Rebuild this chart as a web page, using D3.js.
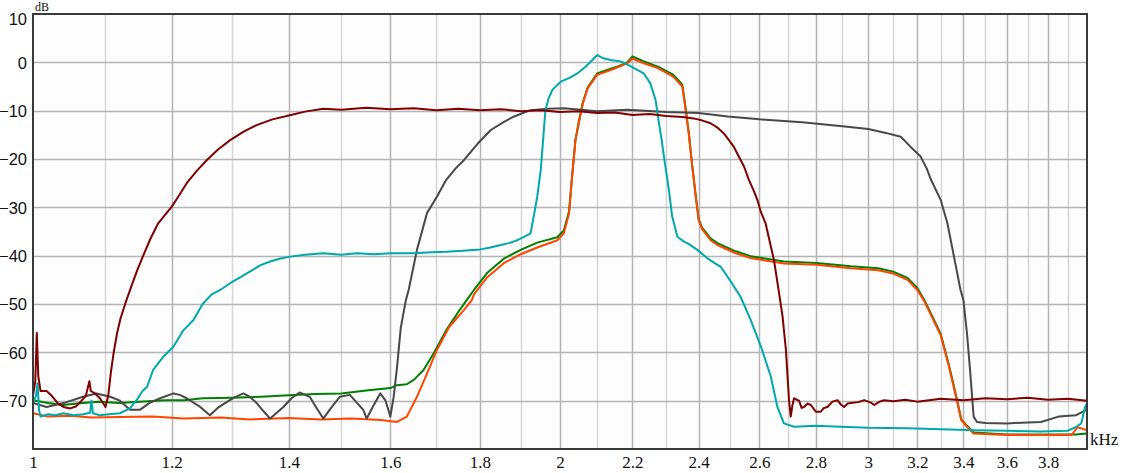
<!DOCTYPE html>
<html><head><meta charset="utf-8">
<script src="https://cdn.jsdelivr.net/npm/d3@7"></script>
<style>body{margin:0;background:#fff}svg{display:block}</style>
</head><body>
<svg id="chart" width="1123" height="473"></svg>
<script>
// ---------- data ----------
const xTickValues = [1,1.2,1.4,1.6,1.8,2,2.2,2.4,2.6,2.8,3,3.2,3.4,3.6,3.8];
const xTickLabels = ["1","1.2","1.4","1.6","1.8","2","2.2","2.4","2.6","2.8","3","3.2","3.4","3.6","3.8"];
const xMinorValues = [1.1,1.3,1.5,1.7,1.9,2.1,2.3,2.5,2.7,2.9,3.1,3.3,3.5,3.7,3.9];
const yTickValues = [10,0,-10,-20,-30,-40,-50,-60,-70];
const yGridValues = [0,-10,-20,-30,-40,-50,-60,-70];
const xUnit = "kHz";
const yUnit = "dB";

const darkRedF = [1.000,1.003,1.005,1.007,1.010,1.018,1.025,1.033,1.041,1.050,1.058,1.066,1.072,1.077,1.079,1.085,1.092,1.100,1.104,1.108,1.112,1.117,1.122,1.130,1.139,1.147,1.156,1.167,1.179,1.190,1.200,1.212,1.224,1.240,1.257,1.276,1.296,1.320,1.342,1.370,1.400,1.430,1.465,1.50,1.55,1.60,1.65,1.70,1.75,1.80,1.85,1.90,1.95,2.00,2.05,2.10,2.15,2.20,2.25,2.30,2.35,2.384,2.41,2.438,2.46,2.481,2.514,2.548,2.564,2.580,2.593,2.605,2.621,2.635,2.650,2.668,2.680,2.692,2.703,2.709,2.715,2.721,2.730,2.739,2.748,2.757,2.770,2.782,2.800,2.818,2.830,2.843,2.862,2.881,2.894,2.906,2.920,2.932,2.960,2.984,3.010,3.024,3.045,3.063,3.10,3.15,3.20,3.30,3.40,3.50,3.60,3.70,3.80,3.90,4.00];
const darkRedDb = [-69,-66,-56,-65,-68,-68,-69,-70.5,-71.3,-71.6,-71.2,-70,-69,-66,-68,-68.5,-69.5,-71.3,-69,-64,-60,-56,-53,-49.5,-46,-43,-40,-36.5,-33.3,-31.5,-29.9,-27.5,-25,-22.5,-20.2,-18,-16.1,-14.3,-13,-11.8,-11,-10.2,-9.6,-9.8,-9.4,-9.7,-9.5,-9.9,-9.6,-9.9,-9.7,-10.1,-9.9,-10.3,-10.1,-10.5,-10.4,-10.9,-10.7,-11.1,-11.3,-11.6,-12,-12.6,-13.5,-14.7,-17.5,-21.6,-24.3,-26.5,-28.5,-31,-33.3,-37,-40.9,-47.8,-52.5,-59.5,-69.9,-73.3,-71,-69.5,-69.8,-70,-71.5,-71.3,-70.6,-70.9,-72.3,-72.3,-71.5,-71.3,-70.2,-69.9,-70.8,-71.3,-70.6,-70.5,-70.3,-69.9,-70.4,-70.9,-70.2,-69.9,-70.1,-69.8,-70.2,-69.6,-69.9,-69.5,-69.7,-69.4,-69.8,-69.6,-70];

const tealF = [1.000,1.004,1.006,1.008,1.010,1.020,1.030,1.041,1.055,1.068,1.078,1.080,1.082,1.092,1.105,1.121,1.130,1.136,1.146,1.155,1.162,1.171,1.187,1.203,1.219,1.235,1.250,1.265,1.279,1.296,1.313,1.330,1.348,1.366,1.385,1.403,1.43,1.465,1.50,1.532,1.566,1.600,1.650,1.690,1.722,1.760,1.801,1.825,1.850,1.870,1.891,1.910,1.924,1.932,1.941,1.950,1.956,1.962,1.970,1.980,2.002,2.025,2.046,2.070,2.091,2.100,2.115,2.138,2.166,2.194,2.215,2.233,2.252,2.268,2.278,2.286,2.293,2.308,2.318,2.334,2.354,2.37,2.396,2.427,2.450,2.471,2.500,2.536,2.570,2.605,2.639,2.662,2.685,2.721,2.80,2.893,3.0,3.159,3.30,3.448,3.60,3.765,3.90,3.94,3.97,3.99,4.0];
const tealDb = [-70.5,-69,-66.4,-72,-73.3,-72.8,-73,-72.6,-73,-72.8,-72.5,-70,-72.6,-73,-72.8,-72.6,-72,-71.6,-69.9,-68,-67.1,-63.7,-60.9,-58.8,-55.4,-53.3,-50,-48,-47.1,-45.7,-44.5,-43.3,-42,-41.2,-40.6,-40.2,-39.8,-39.5,-39.8,-39.5,-39.7,-39.5,-39.5,-39.3,-39.2,-39,-38.7,-38.3,-37.8,-37.4,-36.8,-36,-35.4,-31.9,-27.8,-22.3,-16.1,-9.9,-7.5,-5.7,-4,-3.2,-2.3,-0.8,0.8,1.5,0.9,0.5,0.2,-0.8,-1.6,-2.3,-4.3,-7.8,-12.6,-16,-19.5,-26.4,-31.9,-36.1,-37.1,-37.6,-38.8,-40.5,-41.5,-42.3,-45,-48.5,-53.3,-58.8,-65,-71.3,-74.7,-75.4,-75.2,-75.4,-75.6,-75.7,-75.9,-76.1,-76.2,-76.4,-76.2,-75.5,-74.7,-71.3,-70.5];

const grayF = [1.000,1.018,1.041,1.068,1.087,1.107,1.121,1.136,1.151,1.165,1.182,1.203,1.213,1.224,1.246,1.262,1.275,1.290,1.305,1.319,1.330,1.342,1.355,1.366,1.378,1.390,1.405,1.420,1.439,1.452,1.465,1.480,1.497,1.517,1.530,1.544,1.551,1.565,1.579,1.590,1.600,1.607,1.614,1.622,1.633,1.639,1.657,1.679,1.701,1.722,1.743,1.763,1.795,1.826,1.858,1.883,1.924,1.97,2.010,2.10,2.185,2.30,2.40,2.494,2.60,2.75,2.90,3.00,3.07,3.131,3.172,3.214,3.24,3.258,3.30,3.329,3.358,3.387,3.40,3.416,3.431,3.446,3.461,3.50,3.60,3.70,3.765,3.853,3.943,3.997];
const grayDb = [-70.5,-71.3,-70.5,-69.2,-68.5,-69.2,-70,-71.9,-71.9,-70.5,-69.5,-68.5,-68.8,-69.5,-71.3,-73,-71.5,-70.3,-69.2,-68.5,-69.2,-70.5,-72.3,-73.7,-72.5,-71.3,-69.5,-68.3,-69.2,-71.5,-73.7,-71.5,-69.2,-68.8,-70.3,-71.9,-73.7,-71,-68.5,-70,-73.3,-69.2,-63.2,-55,-49.2,-47.1,-38.8,-31.2,-27.8,-24.3,-22,-20.2,-16.8,-14,-12.3,-11.2,-9.9,-9.6,-9.5,-10.1,-9.8,-10.3,-10.5,-11.2,-11.8,-12.4,-13.2,-13.8,-14.6,-15.4,-17.5,-19.5,-22,-24.3,-28.5,-33.3,-40.2,-47.1,-49.2,-56.1,-64.4,-73.3,-74.4,-74.6,-74.7,-74.5,-74.4,-73.3,-73,-71.9];

const greenF = [1.000,1.02,1.04,1.06,1.09,1.12,1.15,1.19,1.22,1.25,1.30,1.35,1.40,1.45,1.50,1.55,1.60,1.614,1.635,1.650,1.671,1.694,1.722,1.753,1.769,1.786,1.817,1.858,1.899,1.941,1.993,2.010,2.024,2.032,2.041,2.050,2.061,2.074,2.100,2.13,2.16,2.185,2.200,2.233,2.275,2.322,2.349,2.358,2.369,2.380,2.391,2.400,2.411,2.438,2.46,2.52,2.57,2.685,2.803,2.932,3.040,3.10,3.159,3.20,3.23,3.26,3.30,3.335,3.37,3.39,3.416,3.446,3.6,3.765,3.94,4.0];
const greenDb = [-69.9,-70.5,-70.9,-70.6,-70.2,-70.5,-70.2,-69.9,-69.9,-69.5,-69.4,-69.2,-68.9,-68.6,-68.5,-67.9,-67.4,-66.8,-66.6,-65.7,-63.7,-60.2,-55.4,-51.2,-49.2,-47.1,-43.6,-40.6,-38.8,-37.3,-36.2,-34.8,-30.8,-23.7,-16.1,-12.3,-8.3,-5.2,-2.3,-1.5,-0.8,0,1.2,0.2,-0.9,-2.6,-4.6,-8.8,-14.5,-21.4,-27.6,-32.4,-34.2,-36.4,-37.4,-39.1,-40.1,-41.2,-41.5,-42.2,-42.6,-43.3,-44.6,-46.7,-49.2,-52.2,-56.2,-62.5,-69.5,-73.8,-75.2,-76.6,-77,-77,-77,-76.8];

const orangeF = [1.000,1.02,1.05,1.08,1.12,1.17,1.22,1.28,1.33,1.40,1.46,1.52,1.58,1.614,1.635,1.657,1.679,1.701,1.729,1.763,1.781,1.786,1.817,1.858,1.899,1.941,1.993,2.010,2.024,2.032,2.041,2.050,2.061,2.074,2.100,2.138,2.185,2.200,2.233,2.275,2.322,2.349,2.358,2.369,2.380,2.391,2.400,2.411,2.438,2.46,2.52,2.57,2.685,2.803,2.932,3.040,3.10,3.159,3.20,3.23,3.26,3.30,3.335,3.37,3.39,3.416,3.446,3.6,3.765,3.92,3.95,3.99,4.0];
const orangeDb = [-72.6,-73.3,-73.1,-73.5,-73.4,-73.3,-73.7,-73.5,-73.9,-73.6,-73.9,-73.7,-74,-74.4,-73.3,-69.2,-64.4,-59.5,-54.7,-51.2,-49.2,-48,-44.5,-41.5,-39.7,-38.3,-36.8,-35.4,-31.2,-23.7,-16.1,-12.6,-8.5,-5.4,-2.6,-1.6,-0.2,0.8,-0.2,-1.2,-3.0,-5.0,-9.2,-14.7,-21.6,-27.8,-32.6,-34.5,-36.8,-37.8,-39.5,-40.5,-41.6,-41.9,-42.6,-43,-43.7,-45,-47.1,-49.5,-52.5,-56.5,-62.8,-69.8,-74,-75.4,-76.8,-77.1,-77.1,-77.1,-75.5,-76,-76];

const seriesList = [
  {f: greenF, db: greenDb, color: "#008000"},
  {f: orangeF, db: orangeDb, color: "#ff4500"},
  {f: grayF, db: grayDb, color: "#484848"},
  {f: tealF, db: tealDb, color: "#00a9a9"},
  {f: darkRedF, db: darkRedDb, color: "#800000"}
];

// ---------- chart ----------
const L = 33, R = 1087, T = 14, B = 449;
const svg = d3.select("#chart");
const x = d3.scaleLog().domain([1, 4]).range([L, R]);
const y = d3.scaleLinear().domain([-80, 10]).range([B, T]);

svg.append("rect").attr("x", L).attr("y", T).attr("width", R - L).attr("height", B - T).attr("fill", "#fdfdfd");

// grid
const grid = svg.append("g");
grid.selectAll(".minor").data(xMinorValues).join("line")
  .attr("x1", d => Math.round(x(d)) + 0.5).attr("x2", d => Math.round(x(d)) + 0.5)
  .attr("y1", T).attr("y2", B).attr("stroke", "#d6d6d6").attr("stroke-width", 1.5);
grid.selectAll(".major").data(xTickValues.slice(1)).join("line")
  .attr("x1", d => Math.round(x(d)) + 0.5).attr("x2", d => Math.round(x(d)) + 0.5)
  .attr("y1", T).attr("y2", B).attr("stroke", "#b4b4b4").attr("stroke-width", 1.5);
grid.selectAll(".h").data(yGridValues).join("line")
  .attr("x1", L).attr("x2", R)
  .attr("y1", d => Math.round(y(d)) + 0.5).attr("y2", d => Math.round(y(d)) + 0.5)
  .attr("stroke", "#b4b4b4").attr("stroke-width", 1.5);

// traces
svg.append("clipPath").attr("id", "clip").append("rect")
  .attr("x", L).attr("y", T).attr("width", R - L).attr("height", B - T);
const line = d3.line().x(d => x(d[0])).y(d => y(d[1]));
const traces = svg.append("g").attr("clip-path", "url(#clip)");
seriesList.forEach(s => {
  const pts = s.f.map((f, i) => [f, s.db[i]]);
  traces.append("path").datum(pts).attr("d", line)
    .attr("fill", "none").attr("stroke", s.color).attr("stroke-width", 2)
    .attr("stroke-linejoin", "round");
});

// frame
svg.append("rect").attr("x", L).attr("y", T).attr("width", R - L).attr("height", B - T)
  .attr("fill", "none").attr("stroke", "#3a3a3a").attr("stroke-width", 2);

// x axis labels
const xAxis = d3.axisBottom(x).tickValues(xTickValues)
  .tickFormat((d, i) => xTickLabels[i]).tickSize(0).tickPadding(0);
const gx = svg.append("g").attr("transform", `translate(0,${B})`).call(xAxis);
gx.select(".domain").remove();
gx.selectAll("text").attr("y", 19).attr("dy", 0)
  .attr("font-family", "'Liberation Serif', 'Times New Roman', serif")
  .attr("font-size", 17).attr("fill", "#111");

// y axis labels
const yAxis = d3.axisLeft(y).tickValues(yTickValues).tickSize(0).tickPadding(0);
const gy = svg.append("g").attr("transform", `translate(${L - 6},0)`).call(yAxis);
gy.select(".domain").remove();
gy.selectAll("text")
  .attr("x", 0).attr("dy", d => d === 10 ? "0.62em" : "0.36em")
  .attr("font-family", "'Liberation Sans', Arial, sans-serif")
  .attr("font-size", 16.5).attr("fill", "#111");

// unit labels
svg.append("text").attr("x", 1090).attr("y", 445).text(xUnit)
  .attr("font-family", "'Liberation Serif', 'Times New Roman', serif")
  .attr("font-size", 17).attr("fill", "#111");
svg.append("text").attr("x", 35).attr("y", 11).text(yUnit)
  .attr("font-family", "'Liberation Serif', 'Times New Roman', serif")
  .attr("font-size", 12).attr("fill", "#111");
</script>
</body></html>
